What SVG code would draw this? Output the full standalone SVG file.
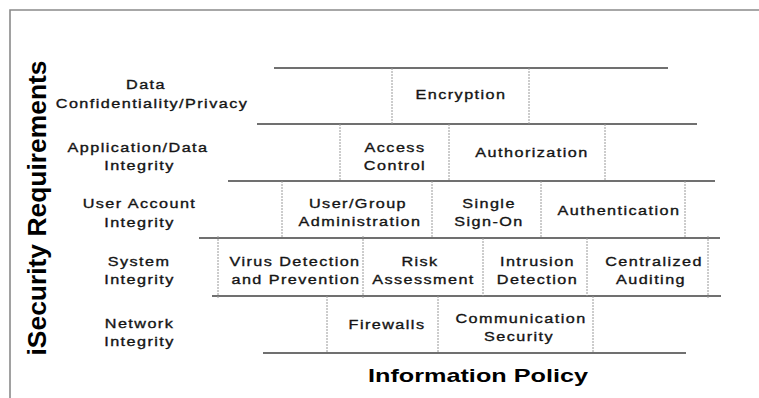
<svg xmlns="http://www.w3.org/2000/svg" width="759" height="398" viewBox="0 0 759 398">
<style>
.border{stroke:#8a8a8a;stroke-width:1.6;fill:none}
.hl{stroke:#707070;stroke-width:2;fill:none}
.vl{stroke:#9a9a9a;stroke-width:1;stroke-dasharray:2 1;fill:none}
.t{font-family:"Liberation Sans",Arial,sans-serif;font-size:13.5px;fill:#141414;stroke:#141414;stroke-width:0.35px;letter-spacing:1.2px;text-anchor:middle}
.big{font-family:"Liberation Sans",Arial,sans-serif;font-weight:bold;fill:#000}
</style>
<rect width="759" height="398" fill="#fff"/>
<g id="frame">
<path class="border" d="M10 398 V10 H759"/>
</g>
<g id="grid">
<path class="hl" d="M274 68 H668 M257 124 H697 M228 181 H715 M199 238 H720 M212 296 H721 M263 353 H686"/>
<path class="vl" d="M392 68 V124 M529 68 V124"/>
<path class="vl" d="M340 124 V181 M449 124 V181 M605 124 V181"/>
<path class="vl" d="M282 181 V238 M432 181 V238 M541 181 V238 M685 181 V238"/>
<path class="vl" d="M218 236 V298 M363 236 V298 M483 238 V296 M587 238 V296 M708 236 V298"/>
<path class="vl" d="M327 296 V353 M438 296 V353 M593 296 V353"/>
</g>
<g id="axis-y">
<text class="big" font-size="26" transform="translate(45.5,208) rotate(-90)" text-anchor="middle" textLength="295" lengthAdjust="spacingAndGlyphs">iSecurity Requirements</text>
</g>
<g id="axis-x">
<text class="big" font-size="19" x="368" y="382" textLength="220" lengthAdjust="spacingAndGlyphs">Information Policy</text>
</g>
<g id="req-data">
<text class="t" transform="translate(146,89) scale(1.2,1)">Data</text>
<text class="t" transform="translate(152,107.5) scale(1.2,1)">Confidentiality/Privacy</text>
</g>
<g id="req-app">
<text class="t" transform="translate(138,152) scale(1.2,1)">Application/Data</text>
<text class="t" transform="translate(139.5,170) scale(1.2,1)">Integrity</text>
</g>
<g id="req-user">
<text class="t" transform="translate(139.5,208) scale(1.2,1)">User Account</text>
<text class="t" transform="translate(139.5,226.5) scale(1.2,1)">Integrity</text>
</g>
<g id="req-system">
<text class="t" transform="translate(139,265.5) scale(1.2,1)">System</text>
<text class="t" transform="translate(139.5,284) scale(1.2,1)">Integrity</text>
</g>
<g id="req-network">
<text class="t" transform="translate(139.5,328) scale(1.2,1)">Network</text>
<text class="t" transform="translate(139.5,345.5) scale(1.2,1)">Integrity</text>
</g>
<g id="encryption">
<text class="t" transform="translate(461,98.5) scale(1.2,1)">Encryption</text>
</g>
<g id="access-control">
<text class="t" transform="translate(395,152) scale(1.2,1)">Access</text>
<text class="t" transform="translate(395,170) scale(1.2,1)">Control</text>
</g>
<g id="authorization">
<text class="t" transform="translate(532,157) scale(1.2,1)">Authorization</text>
</g>
<g id="user-group-admin">
<text class="t" transform="translate(358,208) scale(1.2,1)">User/Group</text>
<text class="t" transform="translate(360,226) scale(1.2,1)">Administration</text>
</g>
<g id="single-sign-on">
<text class="t" transform="translate(489,208) scale(1.2,1)">Single</text>
<text class="t" transform="translate(489,226) scale(1.2,1)">Sign-On</text>
</g>
<g id="authentication">
<text class="t" transform="translate(619,214.5) scale(1.2,1)">Authentication</text>
</g>
<g id="virus-detection">
<text class="t" transform="translate(295,266) scale(1.2,1)">Virus Detection</text>
<text class="t" transform="translate(296,284) scale(1.2,1)">and Prevention</text>
</g>
<g id="risk-assessment">
<text class="t" transform="translate(420,266) scale(1.2,1)">Risk</text>
<text class="t" transform="translate(423.5,284) scale(1.2,1)">Assessment</text>
</g>
<g id="intrusion-detection">
<text class="t" transform="translate(537.5,266) scale(1.2,1)">Intrusion</text>
<text class="t" transform="translate(537.5,284) scale(1.2,1)">Detection</text>
</g>
<g id="centralized-auditing">
<text class="t" transform="translate(654,266) scale(1.2,1)">Centralized</text>
<text class="t" transform="translate(651,284) scale(1.2,1)">Auditing</text>
</g>
<g id="firewalls">
<text class="t" transform="translate(387,329) scale(1.2,1)">Firewalls</text>
</g>
<g id="communication-security">
<text class="t" transform="translate(521,323) scale(1.2,1)">Communication</text>
<text class="t" transform="translate(519,341) scale(1.2,1)">Security</text>
</g>
</svg>
